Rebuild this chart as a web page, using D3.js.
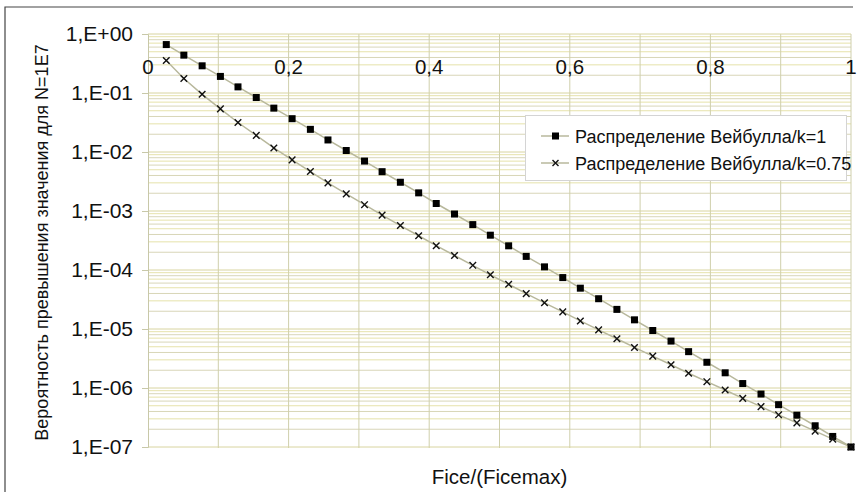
<!DOCTYPE html>
<html><head><meta charset="utf-8">
<script src="https://cdn.jsdelivr.net/npm/d3@7"></script>
<style>
html,body{margin:0;padding:0;background:#fff;}
text{font-family:"Liberation Sans",Arial,sans-serif;fill:#111;}
</style></head>
<body><svg id="c" width="859" height="492"></svg>
<script>
// Fice/(Ficemax) values
const xValues = [0.026,0.051,0.077,0.103,0.128,0.154,0.179,0.205,0.231,0.256,0.282,0.308,0.333,0.359,0.385,0.410,0.436,0.462,0.487,0.513,0.538,0.564,0.590,0.615,0.641,0.667,0.692,0.718,0.744,0.769,0.795,0.821,0.846,0.872,0.897,0.923,0.949,0.974,1.0];
// Распределение Вейбулла/k=1
const weibull1 = [6.62e-1,4.38e-1,2.89e-1,1.91e-1,1.27e-1,8.38e-2,5.54e-2,3.67e-2,2.42e-2,1.60e-2,1.06e-2,7.02e-3,4.64e-3,3.07e-3,2.03e-3,1.34e-3,8.89e-4,5.88e-4,3.89e-4,2.57e-4,1.70e-4,1.13e-4,7.44e-5,4.92e-5,3.26e-5,2.15e-5,1.43e-5,9.43e-6,6.24e-6,4.13e-6,2.73e-6,1.81e-6,1.19e-6,7.90e-7,5.22e-7,3.46e-7,2.29e-7,1.51e-7,1.00e-7];
// Распределение Вейбулла/k=0.75
const weibull075 = [3.56e-1,1.76e-1,9.50e-2,5.39e-2,3.16e-2,1.91e-2,1.17e-2,7.35e-3,4.67e-3,3.00e-3,1.95e-3,1.28e-3,8.50e-4,5.67e-4,3.81e-4,2.58e-4,1.76e-4,1.20e-4,8.29e-5,5.73e-5,3.98e-5,2.78e-5,1.95e-5,1.37e-5,9.66e-6,6.84e-6,4.87e-6,3.47e-6,2.48e-6,1.78e-6,1.28e-6,9.23e-7,6.67e-7,4.83e-7,3.51e-7,2.56e-7,1.86e-7,1.36e-7,1.00e-7];
const seriesNames = ["Распределение Вейбулла/k=1","Распределение Вейбулла/k=0.75"];
const xTicks = [0,0.2,0.4,0.6,0.8,1];
const xTickLabels = ["0","0,2","0,4","0,6","0,8","1"];
const yTicks = [1,1e-1,1e-2,1e-3,1e-4,1e-5,1e-6,1e-7];
const yTickLabels = ["1,E+00","1,E-01","1,E-02","1,E-03","1,E-04","1,E-05","1,E-06","1,E-07"];
const xTitle = "Fice/(Ficemax)";
const yTitle = "Вероятность превышения значения для N=1E7";

const svg = d3.select("#c");
const L=148, R=851, T=34, B=447;
const x = d3.scaleLinear().domain([0,1]).range([L,R]);
const y = d3.scaleLog().domain([1e-7,1]).range([B,T]);

// frame
svg.append("path").attr("d","M5,492 V7 H853").attr("fill","none").attr("stroke","#444").attr("stroke-width",1.2);

// minor horizontal grid
const minor=[];
for(let e=-7;e<0;e++){for(let m=2;m<=9;m++){minor.push(m*Math.pow(10,e));}}
svg.append("g").selectAll("line").data(minor).join("line")
  .attr("x1",L).attr("x2",R).attr("y1",d=>y(d)).attr("y2",d=>y(d))
  .attr("stroke",(d,i)=> i%2? "#e6e2aa":"#d8d6b8").attr("stroke-width",1);
// vertical grid
svg.append("g").selectAll("line").data(d3.range(1,11).map(i=>i/10)).join("line")
  .attr("x1",d=>x(d)).attr("x2",d=>x(d)).attr("y1",T).attr("y2",B+1)
  .attr("stroke","#cfcfac").attr("stroke-width",1);
// major horizontal grid
svg.append("g").selectAll("line").data(yTicks).join("line")
  .attr("x1",L).attr("x2",R).attr("y1",d=>y(d)).attr("y2",d=>y(d))
  .attr("stroke","#d8d4a0").attr("stroke-width",1);

// y axis
const yAxis = d3.axisLeft(y).tickValues(yTicks).tickFormat((d,i)=>yTickLabels[i]).tickSize(6).tickPadding(9);
const ga = svg.append("g").attr("transform",`translate(${L},0)`).call(yAxis);
ga.select(".domain").attr("stroke","#c8c8a8");
ga.selectAll(".tick line").attr("stroke","#c8c8a8");
ga.selectAll(".tick text").attr("font-size",21).attr("font-family","Liberation Sans, Arial, sans-serif").attr("fill","#111");

// x tick labels (axis at top, labels below)
svg.append("g").selectAll("text").data(xTicks).join("text")
  .attr("x",d=>x(d)).attr("y",74).attr("text-anchor","middle").attr("font-size",20.5)
  .text((d,i)=>xTickLabels[i]);

// lines
const line = d3.line().x((d,i)=>x(xValues[i])).y(d=>y(d));
[weibull1,weibull075].forEach(s=>{
  svg.append("path").datum(s).attr("d",line).attr("fill","none").attr("stroke","#b8b89c").attr("stroke-width",1.5);
});
// markers
svg.append("g").selectAll("rect").data(weibull1).join("rect")
  .attr("x",(d,i)=>x(xValues[i])-3.5).attr("y",d=>y(d)-3.5).attr("width",7).attr("height",7).attr("fill","#000");
const cross = (g,cx,cy,s)=> g.append("path").attr("d",`M${cx-s},${cy-s}L${cx+s},${cy+s}M${cx-s},${cy+s}L${cx+s},${cy-s}`).attr("stroke","#111").attr("stroke-width",1.4).attr("fill","none");
const gx = svg.append("g");
weibull075.forEach((d,i)=>cross(gx,x(xValues[i]),y(d),3.3));

// legend
const lg = svg.append("g");
lg.append("rect").attr("x",525.5).attr("y",115.5).attr("width",321).attr("height",65).attr("fill","#fff").attr("stroke","#d4d4d4");
[136,163].forEach((yy,i)=>{
  lg.append("line").attr("x1",541).attr("x2",569).attr("y1",yy).attr("y2",yy).attr("stroke","#b8b89c").attr("stroke-width",1.5);
  if(i===0) lg.append("rect").attr("x",552).attr("y",yy-3.5).attr("width",7).attr("height",7).attr("fill","#000");
  else cross(lg,555.5,yy,3);
  lg.append("text").attr("x",575).attr("y",yy+6.5).attr("font-size",18).text(seriesNames[i]);
});

// titles
svg.append("text").attr("x",(L+R)/2).attr("y",484).attr("text-anchor","middle").attr("font-size",20.5).text(xTitle);
svg.append("text").attr("transform",`translate(48,${(45+440)/2}) rotate(-90)`).attr("text-anchor","middle").attr("font-size",18).text(yTitle);
</script></body></html>
